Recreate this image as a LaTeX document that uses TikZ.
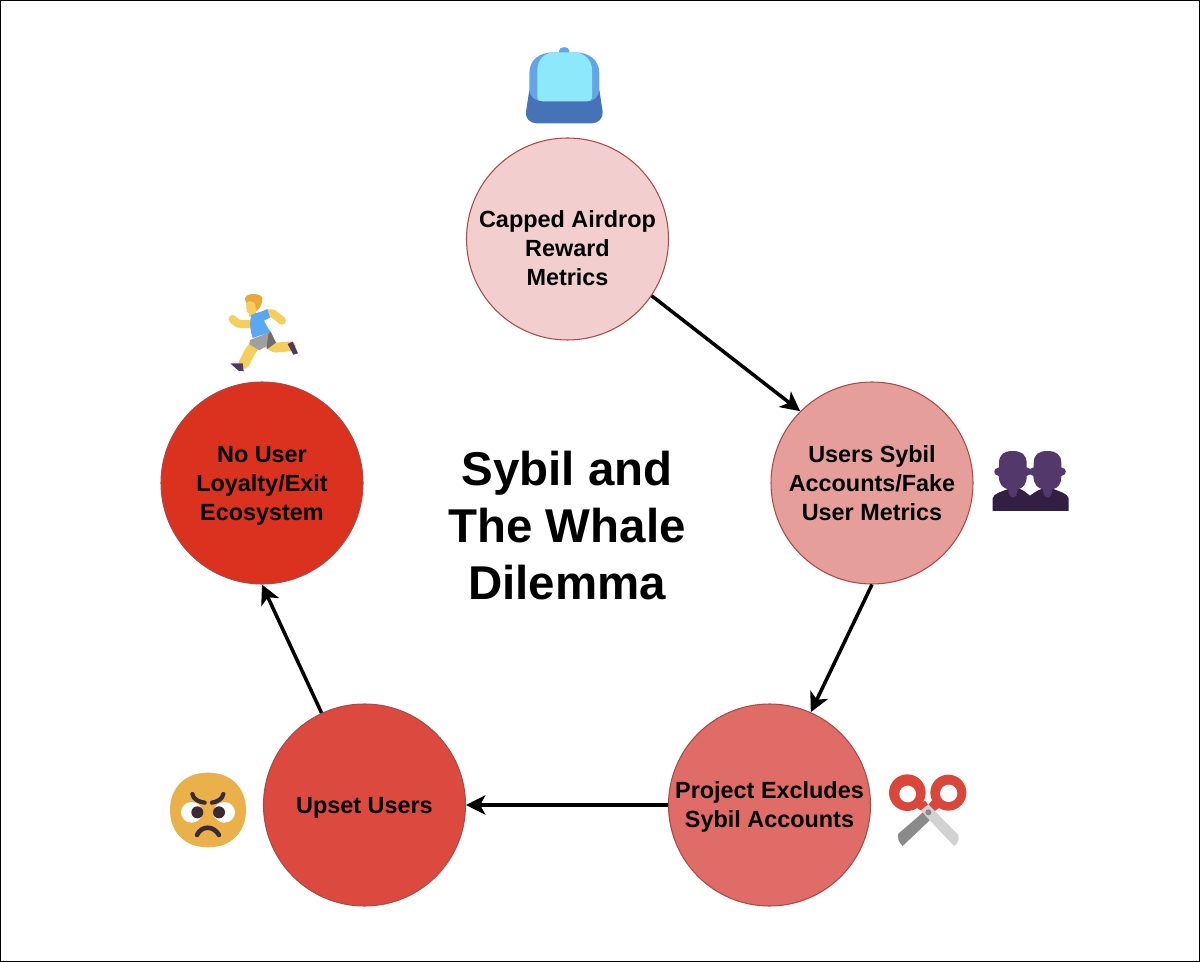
\documentclass[tikz,border=0pt]{standalone}
\usepackage{fontspec}
\setmainfont{Liberation Sans}
\usetikzlibrary{arrows.meta}
\definecolor{cA}{HTML}{F2CECE}
\definecolor{cB}{HTML}{E69E9A}
\definecolor{cC}{HTML}{E06C68}
\definecolor{cD}{HTML}{DC4A3F}
\definecolor{cE}{HTML}{DA321E}
\definecolor{ringc}{HTML}{A94A46}
\definecolor{capA}{HTML}{64A5E8}
\definecolor{capB}{HTML}{8DE8FC}
\definecolor{capC}{HTML}{4673B8}
\definecolor{skin}{HTML}{F5CE5E}
\definecolor{hair}{HTML}{E8A83C}
\definecolor{shirt}{HTML}{5BA8F0}
\definecolor{shoe}{HTML}{4F3768}
\definecolor{pantA}{HTML}{A0A0A0}
\definecolor{pantB}{HTML}{6E6E6E}
\definecolor{headc}{HTML}{53396B}
\definecolor{bodyc}{HTML}{321F42}
\definecolor{scr}{HTML}{D9473B}
\definecolor{bladeA}{HTML}{8A8A8A}
\definecolor{bladeB}{HTML}{D2D2D2}
\definecolor{facec}{HTML}{EAB04A}
\definecolor{dark}{HTML}{3A2A35}
\newcommand\capline{\rule{0pt}{13pt}}
\newcommand\botline{\rule[-3.5pt]{0pt}{3.5pt}}
\newcommand\lowtop{\rule{0pt}{23.2pt}}
\tikzset{
  stage/.style={circle,draw=ringc,line width=0.6pt,minimum size=202*0.02cm,inner sep=0pt,align=center,
    font=\bfseries\fontsize{13.32pt}{16.5pt}\selectfont,text=black},
  flow/.style={draw=black,line width=2pt,-{Stealth[length=11pt,width=11pt,inset=3pt]}},
  icon/.style={scale=0.33333},
  title/.style={font=\bfseries\fontsize{27pt}{32.3pt}\selectfont,align=center,text=black}
}
\begin{document}
\begin{tikzpicture}[x=0.02cm,y=-0.02cm]
\useasboundingbox (0,0) rectangle (1200,962);
\draw[black,line width=0.6pt] (0.5,0.5) rectangle (1199.5,961.5);
\node[stage,fill=cA,inner sep=-8pt] (a) at (567.5,239) {\lowtop Capped Airdrop\\Reward\\Metrics\botline};
\node[stage,fill=cB] (b) at (872,483) {\capline Users Sybil\\Accounts/Fake\\User Metrics\botline};
\node[stage,fill=cC] (c) at (769.5,805) {\capline Project Excludes\\Sybil Accounts\botline};
\node[stage,fill=cD] (d) at (364.5,805) {\capline Upset Users\botline};
\node[stage,fill=cE] (e) at (262,483) {\capline No User\\Loyalty/Exit\\Ecosystem\botline};
\node[title] (t) at (567,525.5) {Sybil and\\The Whale\\Dilemma};
\draw[flow] (a.-34) -- (b.135);
\draw[flow] (b.-90) -- (c.66);
\draw[flow] (c.180) -- (d.0);
\draw[flow] (d.115) -- (e.-90);
% cap
\begin{scope}[shift={(500,30)},icon]
\fill[capA] (177,75) -- (177,62) .. controls (177,48) and (208,48) .. (208,62) -- (208,75) -- cycle;
\fill[capA] (88,214) -- (88,130) .. controls (88,88) and (120,67) .. (160,67) -- (225,67) .. controls (265,67) and (298,88) .. (298,130) -- (298,214) -- cycle;
\fill[capB] (112,200) .. controls (112,210) and (118,214) .. (128,214) -- (260,214) .. controls (270,214) and (276,210) .. (276,200) -- (276,120) .. controls (276,88) and (250,67) .. (220,67) -- (165,67) .. controls (135,67) and (112,88) .. (112,120) -- cycle;
\fill[capC] (88,180) .. controls (90,202) and (105,214) .. (128,214) -- (260,214) .. controls (283,214) and (296,202) .. (298,180)
  -- (308,245) .. controls (310,265) and (295,280) .. (275,280) -- (110,280) .. controls (90,280) and (75,265) .. (78,245) -- cycle;
\end{scope}
% runner
\begin{scope}[shift={(210,280)},icon]
\draw[skin,line width=4.6pt,line cap=round,line join=round] (70,120) -- (84,131) -- (130,133);
\fill[skin] (68,117) circle (12);
\draw[skin,line width=4.6pt,line cap=round,line join=round] (170,100) -- (188,100) -- (216,122);
\draw[skin,line width=5.6pt,line cap=round,line join=round] (175,192) -- (195,203) -- (243,199);
\fill[shoe] (233,192) -- (248,185) -- (264,220) -- (250,224) -- cycle;
\draw[skin,line width=6.2pt,line cap=round,line join=round] (135,195) -- (120,215) -- (102,250);
\fill[shoe] (61,250) -- (98,250) -- (101,274) -- (85,272) -- cycle;
\fill[pantB] (160,165) -- (182,155) -- (198,188) -- (172,207) -- cycle;
\fill[pantA] (120,180) -- (176,158) -- (170,198) -- (148,211) -- (118,193) -- cycle;
\fill[skin] (112,70) -- (135,70) -- (140,110) -- (118,110) -- cycle;
\fill[shirt] (124,105) .. controls (140,97) and (160,95) .. (172,87) -- (180,113) -- (162,122) .. controls (168,135) and (175,145) .. (182,156) -- (128,174) .. controls (120,150) and (118,125) .. (124,105) -- cycle;
\fill[skin] (108,62) -- (145,62) -- (145,88) .. controls (135,100) and (120,102) .. (110,96) -- cycle;
\fill[hair] (105,58) .. controls (103,40) and (145,36) .. (157,52) .. controls (158,70) and (152,85) .. (138,92) -- (136,72) -- (130,66) .. controls (122,62) and (115,62) .. (108,68) -- cycle;
\end{scope}
% people
\begin{scope}[shift={(980,435)},icon]
\fill[bodyc] (38,228) -- (38,190) .. controls (40,175) and (65,170) .. (85,162) -- (120,162) .. controls (130,165) and (140,175) .. (150,182) .. controls (160,175) and (172,165) .. (185,162) -- (220,162) .. controls (240,170) and (262,175) .. (266,190) -- (266,228) -- cycle;
\foreach \dx in {0,104}{
  \fill[headc,shift={(\dx,0)}] (57,85) .. controls (57,58) and (72,48) .. (98,48) .. controls (124,48) and (140,58) .. (140,85) -- (140,97) .. controls (158,100) and (158,120) .. (140,123) .. controls (140,150) and (128,160) .. (113,163) .. controls (113,195) and (85,195) .. (85,163) .. controls (70,160) and (57,150) .. (56,123) .. controls (38,120) and (38,100) .. (57,97) -- cycle;
}
\end{scope}
% scissors
\begin{scope}[shift={(880,760)},icon]
\fill[bladeA] (128,158) -- (150,180) -- (68,258) .. controls (58,250) and (52,235) .. (54,222) -- cycle;
\fill[scr] (82,98) circle (55);
\fill[scr] (205,98) circle (54);
\fill[scr] (105,140) -- (135,122) -- (165,160) -- (150,170) -- cycle;
\fill[scr] (183,140) -- (155,122) -- (125,160) -- (140,170) -- cycle;
\fill[white] (83,102) circle (25);
\fill[white] (206,100) circle (26);
\fill[bladeB] (122,152) -- (145,133) -- (235,225) .. controls (238,240) and (232,252) .. (222,258) -- cycle;
\fill[bladeA] (145,157) circle (9);
\end{scope}
% face
\begin{scope}[shift={(160,760)},icon]
\fill[facec] (144,38) .. controls (215,38) and (258,85) .. (258,150) .. controls (258,215) and (215,262) .. (144,262) .. controls (73,262) and (30,215) .. (30,150) .. controls (30,85) and (73,38) .. (144,38) -- cycle;
\fill[white] (95,157) ellipse (32 and 31);
\fill[white] (193,157) ellipse (32 and 31);
\fill[dark] (112,157) circle (18);
\fill[dark] (177,157) circle (18);
\draw[dark,line width=2.4pt,line cap=round] (97,102) .. controls (100,118) and (115,125) .. (134,128);
\draw[dark,line width=2.4pt,line cap=round] (190,102) .. controls (187,118) and (172,125) .. (156,128);
\draw[dark,line width=2.6pt,line cap=round] (111,225) .. controls (125,196) and (160,196) .. (177,225);
\end{scope}
\end{tikzpicture}
\end{document}
